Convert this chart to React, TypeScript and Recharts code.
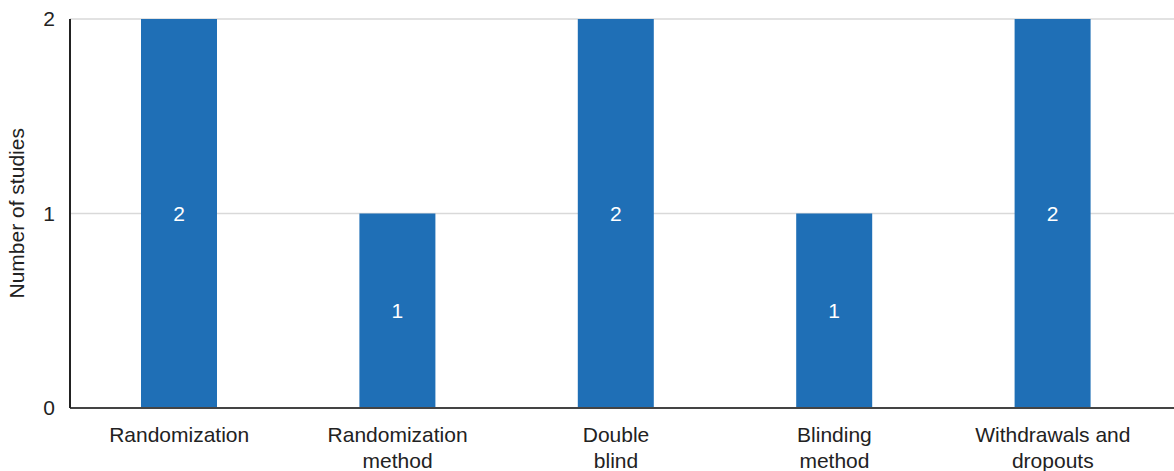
import React from 'react';
import { BarChart, Bar, XAxis, YAxis, CartesianGrid, LabelList } from 'recharts';

const categories = ['Randomization', 'Randomization\nmethod', 'Double\nblind', 'Blinding\nmethod', 'Withdrawals and\ndropouts'];
const studies = [2, 1, 2, 1, 2];
const yTicks = [0, 1, 2];

const data = categories.map((name, i) => ({ name, studies: studies[i] }));

const FONT = '"Liberation Sans", Arial, sans-serif';
const TEXT = '#222222';
const FS = 21;

const CategoryTick = (props: any) => {
  const { x, payload } = props;
  const lines = String(payload.value).split('\n');
  // baselines fixed relative to the plot bottom (408)
  return (
    <g transform={`translate(${x},408)`}>
      {lines.map((line: string, i: number) => (
        <text
          key={i}
          x={0}
          y={34 + i * 26}
          textAnchor="middle"
          fill={TEXT}
          fontSize={FS}
          fontFamily={FONT}
        >
          {line}
        </text>
      ))}
    </g>
  );
};

const App: React.FC = () => {
  return (
    <div style={{ position: 'absolute', left: 0, top: 0, background: '#fff' }}>
      <BarChart
        width={1174}
        height={471}
        data={data}
        margin={{ top: 19, right: 0, bottom: 0, left: 0 }}
      >
        <CartesianGrid vertical={false} stroke="#d9d9d9" strokeWidth={1.5} />
        <XAxis
          dataKey="name"
          height={63}
          interval={0}
          tick={<CategoryTick />}
          tickLine={false}
          axisLine={{ stroke: '#444444', strokeWidth: 2 }}
          padding={{ left: 0, right: 12 }}
        />
        <YAxis
          width={70}
          domain={[0, 2]}
          ticks={yTicks}
          tickLine={false}
          tickMargin={9}
          axisLine={{ stroke: '#222222', strokeWidth: 2 }}
          tick={{ fill: TEXT, fontSize: FS, fontFamily: FONT }}
          label={{
            value: 'Number of studies',
            angle: -90,
            position: 'insideLeft',
            dx: 12,
            dy: 85,
            style: { fill: TEXT, fontSize: FS, fontFamily: FONT },
          }}
        />
        <Bar dataKey="studies" fill="#1f6fb6" barSize={76} isAnimationActive={false}>
          <LabelList
            dataKey="studies"
            position="center"
            fill="#ffffff"
            fontSize={FS}
            fontFamily={FONT}
          />
        </Bar>
      </BarChart>
    </div>
  );
};

export default App;
